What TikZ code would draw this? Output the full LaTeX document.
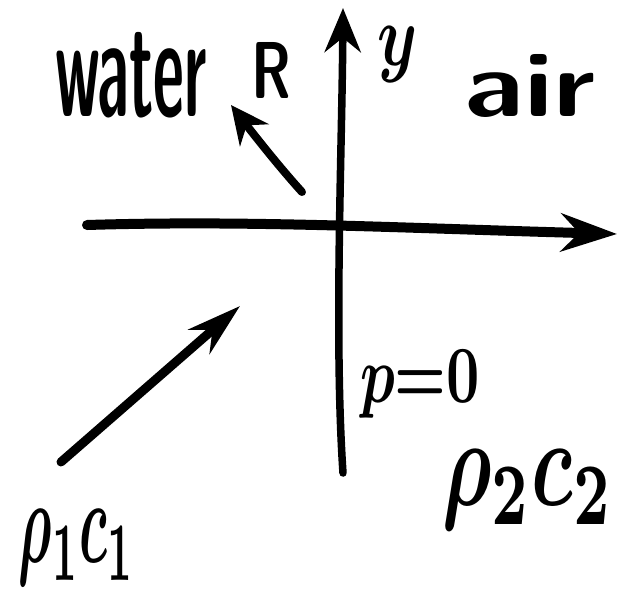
\documentclass[tikz,border=0pt]{standalone}
\usetikzlibrary{arrows.meta}
\tikzset{
  ink/.style={line width=8pt, line cap=round, line join=round},
  lbl/.style={inner sep=0pt, outer sep=0pt},
}
\begin{document}
\begin{tikzpicture}[x=1pt,y=-1pt]
\useasboundingbox (0,0) rectangle (618,592);
% coordinates
\coordinate (ybot) at (343,473);
\coordinate (ytop) at (343,8);
\coordinate (xleft) at (87,225);
\coordinate (xright) at (617,234);
\coordinate (rtail) at (302,192);
\coordinate (rtip) at (231,105);
\coordinate (itail) at (61,462);
\coordinate (itip) at (240,306);
% axes
\draw[ink,line width=7.5pt,-{Stealth[length=44pt,width=36pt]}] (ybot) .. controls (334,340) and (342,150) .. (ytop);
\draw[ink,line width=10pt,-{Stealth[length=56pt,width=38pt]}] (xleft) .. controls (250,220) and (400,228) .. (xright);
% reflected wave
\draw[ink,-{Stealth[length=38pt,width=36pt]}] (rtail) .. controls (282,170) and (258,140) .. (rtip);
% incident wave
\draw[ink,line width=9pt,-{Stealth[length=54pt,width=32pt]}] (itail) -- (itip);
% labels
\node[lbl] (water) at (131,75) {\resizebox{152pt}{84pt}{\sffamily\bfseries water}};
\node[lbl] (R) at (272,70) {\resizebox{40pt}{56pt}{\sffamily\bfseries R}};
\node[lbl] (y) at (398,55) {\resizebox*{40pt}{56pt}{\boldmath$y$}};
\node[lbl] (air) at (530,86) {\resizebox{130pt}{62pt}{\sffamily\bfseries air}};
\node[lbl] (p0) at (420,384) {\resizebox*{120pt}{68pt}{\boldmath$p{=}0$}};
\node[lbl] (rc2) at (528,490) {\resizebox*{172pt}{80pt}{\boldmath$\rho_2 c_2$}};
\node[lbl] (rc1) at (77,548) {\resizebox*{116pt}{76pt}{\boldmath$\rho_1 c_1$}};
\end{tikzpicture}
\end{document}
